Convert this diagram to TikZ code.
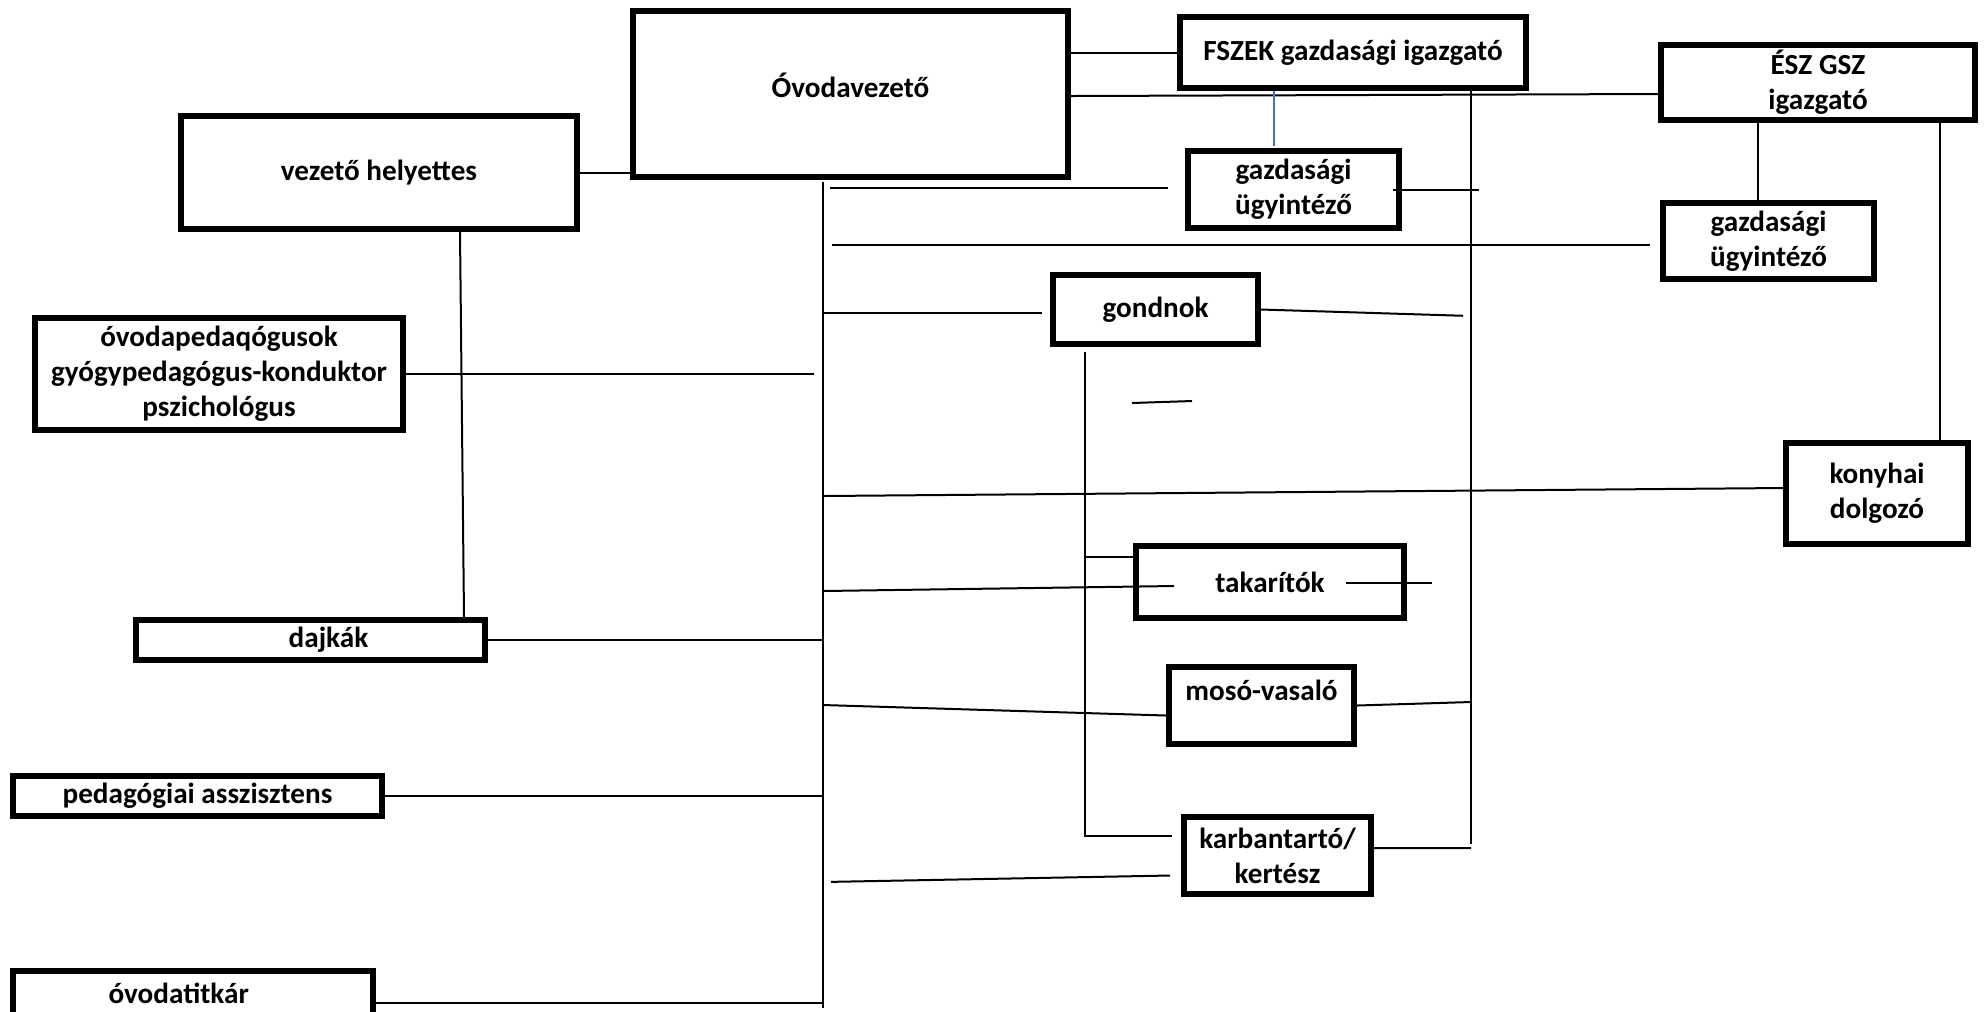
\documentclass[tikz,border=0pt]{standalone}
\usepackage{fontspec}
\setmainfont{Carlito}
\usepackage{tikz}
\definecolor{linkblue}{RGB}{68,114,196}

\begin{document}
\begin{tikzpicture}[x=0.1mm,y=-0.1mm]
  \tikzstyle{unit}=[draw,line width=0.6mm,inner sep=0pt,align=center,font=\fontsize{8.3}{10}\selectfont\bfseries]
  \tikzstyle{link}=[line width=0.2mm]
  \path[fill=white,use as bounding box] (0,0) rectangle (1984,1011);
  \foreach \n/\x/\y/\w/\h/\t in {
    ovez/850.5/94/43.5/16.6/{\raisebox{1.8mm}{Óvodavezető}},
    fszek/1353/52.5/34.6/7.1/{FSZEK gazdasági igazgató},
    esz/1818/82.5/31.4/7.5/{ÉSZ GSZ\\igazgató},
    vh/379/172.5/39.6/11.3/{vezető helyettes},
    gazd1/1293.5/189.5/21.1/7.7/{gazdasági\\ügyintéző},
    gazd2/1768.5/241/21.1/7.6/{gazdasági\\ügyintéző},
    gondnok/1155.5/309.5/20.5/6.9/{gondnok},
    ovped/219/374/36.8/11.2/{óvodapedaqógusok\\gyógypedagógus-konduktor\\pszichológus},
    konyha/1877/493.5/18.2/10.1/{konyhai\\dolgozó},
    takar/1270/582/26.8/7.2/{takarítók},
    dajka/310.5/640/34.9/4.0/{\hspace*{3.6mm}dajkák},
    moso/1261.5/705.5/18.5/7.7/{\raisebox{3mm}{mosó-vasaló}},
    pedasz/197.5/796/36.9/4.0/{pedagógiai asszisztens},
    karb/1277.5/855.5/18.7/7.7/{karbantartó/\\kertész},
    titkar/193/993/36.0/4.4/{óvodatitkár\hspace*{2.2mm}}
  } {
    \node[unit,minimum width=\w mm,minimum height=\h mm] (\n) at (\x,\y) {\t};
  }
  \coordinate (ttop) at (823,182);
  \coordinate (tbot) at (823,1008);
  \coordinate (fv) at (1471,844);
  \coordinate (gv) at (1085,352);
  \coordinate (dash) at (1132,403);
  % top level
  \draw[link] (vh.east) -- (vh.east -| ovez.west);
  \draw[link] (ovez.east |- fszek.west) -- (fszek.west);
  \draw[link] (ovez.east |- 0,96) -- (esz.west |- 0,94);
  \draw[line width=0.15mm,linkblue] (fszek.south -| 1274,0) -- ++(0,55);
  \draw[link] (fszek.south -| fv) -- (fv);
  \draw[link] (esz.south -| 1758,0) -- (gazd2.north -| 1758,0);
  \draw[link] (esz.south -| 1940,0) -- (konyha.north -| 1940,0);
  % main trunk
  \draw[link] (ttop) -- (tbot);
  \draw[link,shorten <=0.7mm,shorten >=1.7mm] (ttop |- 0,188) -- (gazd1.west |- 0,188);
  \draw[link,shorten <=0.9mm,shorten >=1mm] (ttop |- 0,245) -- (gazd2.west |- 0,245);
  \draw[link,shorten >=0.8mm] (ttop |- 0,313) -- (gondnok.west |- 0,313);
  \draw[link,shorten >=0.9mm] (ovped.east) -- (ovped.east -| ttop);
  \draw[link] (ttop |- 0,496) -- ([yshift=0.55mm]konyha.west);
  \draw[link] (ttop |- 0,591) -- ([shift={(41,4)}]takar.west);
  \draw[link] (dajka.east) -- (dajka.east -| ttop);
  \draw[link] (ttop |- 0,705) -- ([yshift=-1mm]moso.west);
  \draw[link] (pedasz.east) -- (pedasz.east -| ttop);
  \draw[link,shorten <=0.8mm] (ttop |- 0,882) -- ([shift={(-11,20)}]karb.west);
  \draw[link] (titkar.east |- 0,1003) -- (ttop |- 0,1003);
  % deputy
  \draw[link] (vh.south -| 460,0) -- (dajka.north -| 464,0);
  % gondnok
  \draw[link,shorten >=0.9mm] (gv) |- ([yshift=2mm]karb.west);
  \draw[link] (gv |- 0,557) -- (takar.west |- 0,557);
  \draw[link,shorten >=0.8mm] (gondnok.east) -- (fv |- 0,316);
  \draw[link] (dash) -- ++(60,-2);
  % right side
  \draw[link] ([xshift=-0.9mm]gazd1.east) -- ++(86,0);
  \draw[link] ([shift={(-61,1)}]takar.east) -- ++(86,0);
  \draw[link] (moso.east) -- (fv |- 0,702);
  \draw[link] ([yshift=0.75mm]karb.east) -- (fv |- 0,848);
\end{tikzpicture}
\end{document}
